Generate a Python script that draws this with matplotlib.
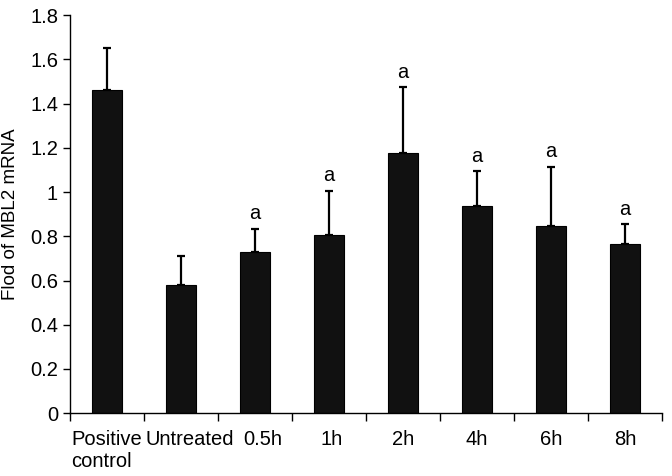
import numpy as np
import matplotlib.pyplot as plt
import matplotlib.transforms as mtransforms

plt.rcParams['font.family'] = ['Liberation Sans', 'DejaVu Sans']

groups = ['Positive\ncontrol', 'Untreated', '0.5h', '1h', '2h', '4h', '6h', '8h']
means = [1.46, 0.58, 0.73, 0.805, 1.175, 0.935, 0.845, 0.765]
errors = [0.19, 0.13, 0.105, 0.20, 0.30, 0.16, 0.27, 0.09]
marks = ['', '', 'a', 'a', 'a', 'a', 'a', 'a']

fig = plt.figure(figsize=(6.72, 4.76), dpi=100)
ax = fig.add_axes([0.104, 0.132, 0.881, 0.836])

x = np.arange(len(groups))
ax.bar(x, means, width=0.4, color='#111111', edgecolor='black', linewidth=0.8)
ax.errorbar(x, means, yerr=[np.zeros(len(x)), errors], fmt='none',
            ecolor='black', elinewidth=1.6, capsize=3, capthick=1.6)

for xi, m, e, t in zip(x, means, errors, marks):
    if t:
        ax.text(xi, m + e + 0.025, t, ha='center', va='bottom', fontsize=14.5)

ax.set_xlim(-0.5, len(groups) - 0.5)
ax.set_ylim(0, 1.8)
ax.set_yticks(np.arange(0, 1.81, 0.2))
ax.set_yticklabels(['0', '0.2', '0.4', '0.6', '0.8', '1', '1.2', '1.4', '1.6', '1.8'])
ax.set_ylabel('Flod of MBL2 mRNA', fontsize=13.5, labelpad=8)

ax.set_xticks(x)
ax.set_xticklabels(groups, multialignment='left')
ax.set_xticks(np.arange(-0.5, len(groups)), minor=True)
ax.tick_params(axis='x', which='major', length=0, pad=12)
ax.tick_params(axis='x', which='minor', length=6, width=1, direction='out')
ax.tick_params(axis='y', length=5, width=1, direction='out')
ax.tick_params(labelsize=14.5)

# nudge crowded labels to the right like the original
labels = ax.get_xticklabels()
for i, dx in [(1, 9), (2, 8), (3, 3)]:
    off = mtransforms.ScaledTranslation(dx / 100, 0, fig.dpi_scale_trans)
    labels[i].set_transform(labels[i].get_transform() + off)

for s in ['top', 'right']:
    ax.spines[s].set_visible(False)
for s in ['left', 'bottom']:
    ax.spines[s].set_linewidth(1)

fig.savefig('out.png', dpi=100)
